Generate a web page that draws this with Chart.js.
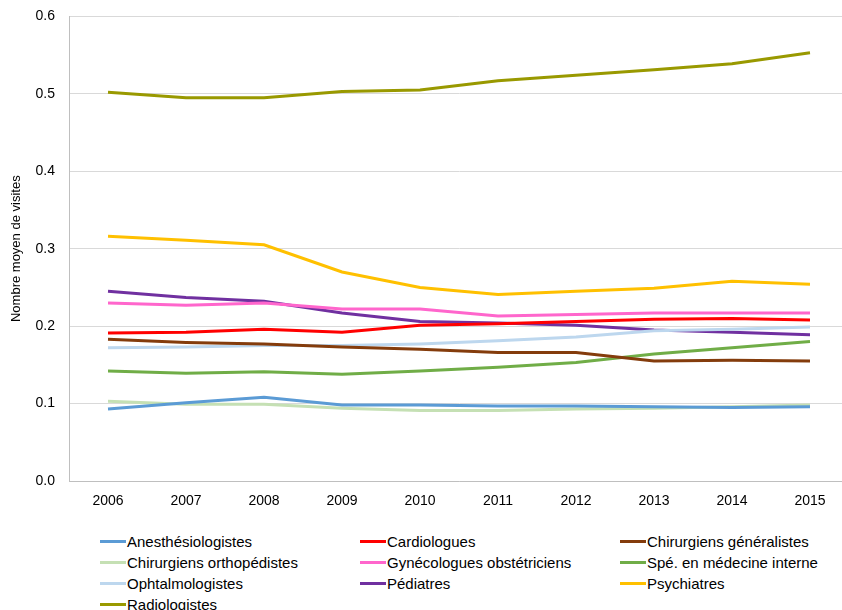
<!DOCTYPE html>
<html lang="fr">
<head>
<meta charset="utf-8">
<title>Nombre moyen de visites</title>
<script src="https://cdn.jsdelivr.net/npm/chart.js@4"></script>
<style>
  html, body { margin: 0; padding: 0; background: #fff; overflow: hidden; }
  body { width: 842px; height: 610px; position: relative; font-family: "Liberation Sans", Arial, sans-serif; }
  #wrap { position: absolute; left: 0; top: -6px; width: 850px; height: 526px; }
  #legend { position: absolute; left: 100px; top: 531px; display: grid; grid-template-columns: 260px 260px 240px; grid-auto-rows: 21px; }
  .item { display: flex; align-items: center; font-size: 15px; color: #000; white-space: nowrap; }
  .swatch { width: 26px; height: 3px; margin-right: 1px; }
</style>
</head>
<body>
<div id="wrap"><canvas id="visites"></canvas></div>
<div id="legend"></div>
<script>
const annees = ['2006', '2007', '2008', '2009', '2010', '2011', '2012', '2013', '2014', '2015'];

const anesthesiologistes = [0.093, 0.101, 0.108, 0.098, 0.098, 0.097, 0.097, 0.096, 0.095, 0.096];
const cardiologues = [0.191, 0.192, 0.196, 0.192, 0.201, 0.203, 0.206, 0.209, 0.210, 0.208];
const chirGeneralistes = [0.183, 0.179, 0.177, 0.173, 0.170, 0.166, 0.166, 0.155, 0.156, 0.155];
const chirOrthopedistes = [0.103, 0.099, 0.099, 0.094, 0.091, 0.091, 0.093, 0.094, 0.096, 0.098];
const gynecologues = [0.230, 0.227, 0.230, 0.222, 0.222, 0.213, 0.215, 0.217, 0.217, 0.217];
const medInterne = [0.142, 0.139, 0.141, 0.138, 0.142, 0.147, 0.153, 0.164, 0.172, 0.180];
const ophtalmologistes = [0.172, 0.173, 0.175, 0.175, 0.177, 0.181, 0.186, 0.194, 0.196, 0.199];
const pediatres = [0.245, 0.237, 0.232, 0.217, 0.206, 0.204, 0.201, 0.195, 0.192, 0.189];
const psychiatres = [0.316, 0.311, 0.305, 0.270, 0.250, 0.241, 0.245, 0.249, 0.258, 0.254];
const radiologistes = [0.502, 0.495, 0.495, 0.503, 0.505, 0.517, 0.524, 0.531, 0.539, 0.553];

const yTicks = [0, 0.1, 0.2, 0.3, 0.4, 0.5, 0.6];

const font = "'Liberation Sans', Arial, sans-serif";

function serie(label, data, color) {
  return {
    label: label,
    data: data,
    borderColor: color,
    backgroundColor: color,
    borderWidth: 3,
    pointRadius: 0,
    tension: 0,
    fill: false
  };
}

const ctx = document.getElementById('visites').getContext('2d');
const chart = new Chart(ctx, {
  type: 'line',
  data: {
    labels: annees,
    datasets: [
      serie('Anesthésiologistes', anesthesiologistes, '#5B9BD5'),
      serie('Cardiologues', cardiologues, '#FF0000'),
      serie('Chirurgiens généralistes', chirGeneralistes, '#843C0C'),
      serie('Chirurgiens orthopédistes', chirOrthopedistes, '#C5E0B4'),
      serie('Gynécologues obstétriciens', gynecologues, '#FF66CC'),
      serie('Spé. en médecine interne', medInterne, '#70AD47'),
      serie('Ophtalmologistes', ophtalmologistes, '#BDD7EE'),
      serie('Pédiatres', pediatres, '#7030A0'),
      serie('Psychiatres', psychiatres, '#FFC000'),
      serie('Radiologistes', radiologistes, '#999900')
    ]
  },
  options: {
    responsive: true,
    maintainAspectRatio: false,
    animation: false,
    layout: { padding: { top: 10, right: 1, left: 0, bottom: 0 } },
    plugins: {
      legend: { display: false },
      tooltip: { enabled: false }
    },
    scales: {
      x: {
        offset: true,
        grid: { display: false, drawTicks: false },
        border: { color: '#BFBFBF', width: 1 },
        ticks: { color: '#000', font: { family: font, size: 14 }, padding: 12, maxRotation: 0 },
        afterFit: function (scale) { scale.height = 39; }
      },
      y: {
        min: 0,
        max: 0.6,
        afterBuildTicks: function (scale) { scale.ticks = yTicks.map(v => ({ value: v })); },
        grid: { color: '#D9D9D9', lineWidth: 1, drawTicks: false },
        border: { color: '#BFBFBF', width: 1 },
        ticks: {
          color: '#000',
          font: { family: font, size: 14 },
          padding: 14,
          callback: v => v.toFixed(1)
        },
        title: {
          display: true,
          text: 'Nombre moyen de visites',
          color: '#000',
          font: { family: font, size: 13 },
          padding: { top: 9, bottom: 0 }
        },
        afterFit: function (scale) { scale.width = 69; }
      }
    }
  }
});

// legend in three columns, built from the chart's own labels
const legend = document.getElementById('legend');
chart.options.plugins.legend.labels.generateLabels(chart).forEach(item => {
  const div = document.createElement('div');
  div.className = 'item';
  const sw = document.createElement('span');
  sw.className = 'swatch';
  sw.style.background = item.strokeStyle;
  const txt = document.createElement('span');
  txt.textContent = item.text;
  div.appendChild(sw);
  div.appendChild(txt);
  legend.appendChild(div);
});
</script>
</body>
</html>
